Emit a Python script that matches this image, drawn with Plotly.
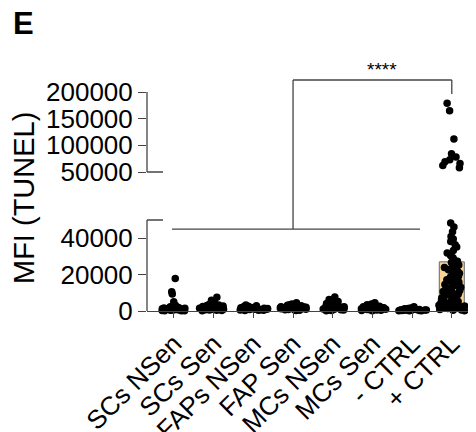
import plotly.graph_objects as go

# ---------------- data ----------------
categories = ["SCs NSen", "SCs Sen", "FAPs NSen", "FAP Sen",
              "MCs NSen", "MCs Sen", "- CTRL", "+ CTRL"]
bar_means = [1900, 2100, 1300, 1800, 2000, 1600, 600, 27000]

scs_nsen = [17800, 10600, 9300, 5100, 3200, 2900, 2600, 2400, 2200, 2150, 1950, 1800,
            1750, 1600, 1500, 1450, 1300, 1250, 1100, 1000, 950, 850, 700, 650, 500,
            450, 350, 300, 200, 150, 80]
scs_sen = [7600, 5900, 4800, 4200, 3600, 3300, 3000, 2800, 2700, 2500, 2400, 2300, 2200,
           2050, 1900, 1850, 1700, 1600, 1500, 1400, 1350, 1200, 1100, 1000, 900, 800,
           700, 600, 450, 300, 200]
faps_nsen = [3300, 2900, 2600, 2400, 2300, 2100, 2000, 1900, 1800, 1700, 1650, 1500, 1400,
             1350, 1250, 1150, 1100, 1000, 900, 850, 750, 650, 550, 450, 350, 250]
fap_sen = [4500, 3900, 3500, 3100, 2900, 2700, 2600, 2400, 2300, 2200, 2100, 2000, 1900,
           1800, 1700, 1600, 1500, 1450, 1300, 1200, 1100, 1000, 900, 800, 650, 500, 400, 300]
mcs_nsen = [7700, 6300, 5200, 4600, 4100, 3700, 3300, 3000, 2800, 2600, 2500, 2350, 2200,
            2100, 1950, 1850, 1700, 1600, 1500, 1400, 1300, 1150, 1050, 950, 850, 700,
            600, 500, 350, 250, 150]
mcs_sen = [4500, 3800, 3400, 3000, 2800, 2600, 2400, 2250, 2100, 2000, 1900, 1800, 1700,
           1600, 1500, 1400, 1300, 1200, 1100, 1000, 900, 800, 700, 550, 450, 300, 200]
neg_ctrl = [2300, 1600, 1400, 1200, 1100, 1000, 950, 900, 800, 750, 700, 650, 600, 550,
            500, 450, 400, 350, 300, 250, 200, 150, 100]
pos_ctrl = [179000, 165000, 112000, 84000, 78000, 73000, 69000, 66000, 62000, 58000,
            48300, 46200, 43500, 41000, 39500, 38200, 36400, 35100, 33300, 31800, 30400,
            29300, 28100, 27400, 26700, 25900, 25300, 24400, 23900, 23100, 22700, 21900,
            21400, 20800, 20300, 19900, 19200, 18700, 18300, 17600, 17200, 16900, 16200,
            15800, 15300, 14900, 14500, 14200, 13600, 13100, 12800, 12300, 11900, 11400,
            11100, 10700, 10200, 9800, 9500, 9100, 8700, 8200, 7900, 7500, 7200, 6800,
            6400, 6100, 5700, 5400, 5200, 4900, 4600, 4300, 4000, 3800, 3500, 3200, 3000,
            2800, 2600, 2400, 2200, 2000, 1800, 1600, 1400, 1200, 1000, 800, 600, 400, 200]

groups = [scs_nsen, scs_sen, faps_nsen, fap_sen, mcs_nsen, mcs_sen, neg_ctrl, pos_ctrl]

y_ticks_low = [0, 20000, 40000]
y_ticks_high = [50000, 100000, 150000, 200000]
break_value = 50000

# ---------------- geometry (page has an 8px body margin) ----------------
OFF = 8
W, H = 476 - OFF, 432 - OFF
lo_range = [-2500, 51000]
hi_range = [45000, 205000]
lo_zero_px, lo_scale = 311, 91 / 50000         # reference px, px per unit
hi_50k_px, hi_scale = 172, 80 / 150000


def lo_px(v):
    return lo_zero_px - v * lo_scale


def hi_px(v):
    return hi_50k_px - (v - 50000) * hi_scale


def py(px):   # reference pixel (from window top) -> paper y
    return (H - (px - OFF)) / H


def px_x(px):  # reference pixel (from window left) -> paper x
    return (px - OFF) / W


lo_domain = [py(lo_px(lo_range[0])), py(lo_px(lo_range[1]))]
hi_domain = [py(hi_px(hi_range[0])), py(hi_px(hi_range[1]))]
x_dom0 = px_x(147)
LINE = "#444444"

# split values for broken axis
xs_lo, ys_lo, xs_hi, ys_hi = [], [], [], []
for cat, vals in zip(categories, groups):
    for v in vals:
        if v > break_value:
            xs_hi.append(cat); ys_hi.append(v)
        else:
            xs_lo.append(cat); ys_lo.append(v)

fig = go.Figure()
bar_colors = ["white"] * 7 + ["#F6D396"]
fig.add_trace(go.Bar(x=categories, y=bar_means, width=0.63,
                     marker=dict(color=bar_colors, line=dict(color="#666666", width=1)),
                     xaxis="x", yaxis="y"))
pt_style = dict(boxpoints="all", pointpos=0, jitter=1, width=0.74,
                fillcolor="rgba(0,0,0,0)", line=dict(color="rgba(0,0,0,0)", width=0),
                marker=dict(color="black", size=7.5))
fig.add_trace(go.Box(x=xs_lo, y=ys_lo, xaxis="x", yaxis="y", **pt_style))
fig.add_trace(go.Box(x=xs_hi, y=ys_hi, xaxis="x2", yaxis="y2", **pt_style))

FONT = "Liberation Sans, Arial, sans-serif"
fig.update_layout(
    width=W, height=H, margin=dict(l=0, r=0, t=0, b=0, autoexpand=False),
    paper_bgcolor="white", plot_bgcolor="white",
    showlegend=False, hovermode=False, boxmode="overlay",
    font=dict(family=FONT, color="black"),
    xaxis=dict(domain=[x_dom0, 1], type="category", categoryorder="array",
               categoryarray=categories, range=[-0.68, 7.61],
               anchor="free", position=py(lo_zero_px), automargin=False,
               showline=True, linecolor=LINE, linewidth=1.3,
               ticks="outside", ticklen=6, tickcolor=LINE, tickwidth=1.3,
               tickangle=-45, tickfont=dict(size=26, family=FONT),
               showgrid=False, zeroline=False),
    xaxis2=dict(domain=[x_dom0, 1], matches="x", anchor="y2", visible=False,
                automargin=False,
                type="category", categoryorder="array", categoryarray=categories),
    yaxis=dict(domain=lo_domain, range=lo_range, anchor="x", automargin=False,
               tickvals=y_ticks_low, ticktext=[str(v) for v in y_ticks_low],
               ticks="outside", ticklen=8, tickcolor=LINE, tickwidth=1.3,
               tickfont=dict(size=26, family=FONT), showline=False,
               showgrid=False, zeroline=False),
    yaxis2=dict(domain=hi_domain, range=hi_range, anchor="x2", automargin=False,
                tickvals=y_ticks_high, ticktext=[str(v) for v in y_ticks_high],
                ticks="outside", ticklen=8, tickcolor=LINE, tickwidth=1.3,
                tickfont=dict(size=26, family=FONT), showline=False,
                showgrid=False, zeroline=False),
)

cap = 16 / W
shapes = [
    dict(type="line", xref="paper", yref="y", x0=x_dom0, x1=x_dom0, y0=0, y1=break_value),
    dict(type="line", xref="paper", yref="y", x0=x_dom0, x1=x_dom0 + cap, y0=break_value, y1=break_value),
    dict(type="line", xref="paper", yref="y2", x0=x_dom0, x1=x_dom0, y0=break_value, y1=y_ticks_high[-1]),
    dict(type="line", xref="paper", yref="y2", x0=x_dom0, x1=x_dom0 + cap, y0=break_value, y1=break_value),
    dict(type="line", xref="x", yref="paper", x0=-0.05, x1=6.2, y0=py(lo_px(45000)), y1=py(lo_px(45000))),
    dict(type="line", xref="x", yref="paper", x0=3, x1=3, y0=py(lo_px(45000)), y1=py(80)),
    dict(type="line", xref="x", yref="paper", x0=3, x1=7, y0=py(80), y1=py(80)),
    dict(type="line", xref="x", yref="paper", x0=7, x1=7, y0=py(80), y1=py(94)),
]
for s in shapes:
    s["line"] = dict(color=LINE, width=1.3)
    s["layer"] = "above"
fig.update_layout(shapes=shapes)

fig.add_annotation(text="****", xref="x", yref="paper", x=5.25, y=py(69),
                   xanchor="center", yanchor="middle",
                   showarrow=False, font=dict(size=19, family=FONT))
fig.add_annotation(text="MFI (TUNEL)", xref="paper", yref="paper",
                   x=px_x(24), y=py(198), xanchor="center", yanchor="middle",
                   textangle=-90, showarrow=False, font=dict(size=29, family=FONT))
fig.add_annotation(text="<b>E</b>", xref="paper", yref="paper",
                   x=px_x(11), y=py(24), xanchor="left", yanchor="middle",
                   showarrow=False, font=dict(size=31, family=FONT))

fig.write_html("out.html")
